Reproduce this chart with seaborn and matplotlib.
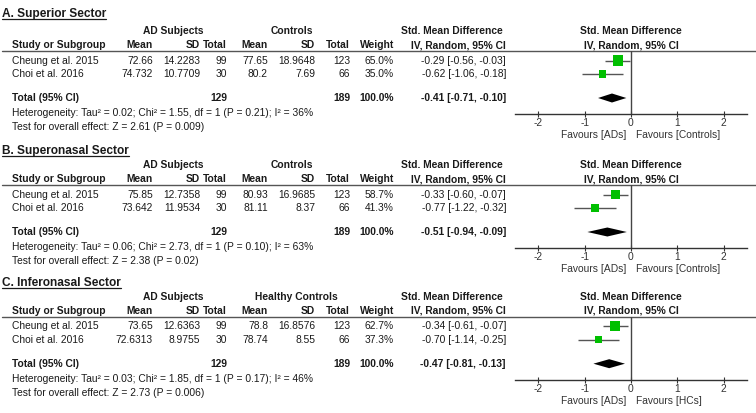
import matplotlib
matplotlib.use("Agg")
import matplotlib.pyplot as plt
import seaborn as sns
import pandas as pd

# data (RevMan style forest plots)
panel_titles = ["A. Superior Sector", "B. Superonasal Sector", "C. Inferonasal Sector"]
control_labels = ["Controls", "Controls", "Healthy Controls"]
favour_left = ["Favours [ADs]", "Favours [ADs]", "Favours [ADs]"]
favour_right = ["Favours [Controls]", "Favours [Controls]", "Favours [HCs]"]
studies = ["Cheung et al. 2015", "Choi et al. 2016"]

ad_mean = [[72.66, 74.732], [75.85, 73.642], [73.65, 72.6313]]
ad_sd = [[14.2283, 10.7709], [12.7358, 11.9534], [12.6363, 8.9755]]
ad_n = [99, 30]
ctrl_mean = [[77.65, 80.2], [80.93, 81.11], [78.8, 78.74]]
ctrl_sd = [[18.9648, 7.69], [16.9685, 8.37], [16.8576, 8.55]]
ctrl_n = [123, 66]
weight = [[65.0, 35.0], [58.7, 41.3], [62.7, 37.3]]
smd = [[-0.29, -0.62], [-0.33, -0.77], [-0.34, -0.70]]
smd_lo = [[-0.56, -1.06], [-0.60, -1.22], [-0.61, -1.14]]
smd_hi = [[-0.03, -0.18], [-0.07, -0.32], [-0.07, -0.25]]
total_smd = [-0.41, -0.51, -0.47]
total_lo = [-0.71, -0.94, -0.81]
total_hi = [-0.10, -0.09, -0.13]
tau2 = ["0.02", "0.06", "0.03"]
chi2 = ["1.55", "2.73", "1.85"]
het_p = ["0.21", "0.10", "0.17"]
i2 = [36, 63, 46]
z_val = ["2.61", "2.38", "2.73"]
z_p = ["0.009", "0.02", "0.006"]
xticks = [-2, -1, 0, 1, 2]

sns.set_style("white")
plt.rcParams["font.family"] = ["Liberation Sans", "DejaVu Sans"]
plt.rcParams["axes.unicode_minus"] = False

W, H = 756, 413
fig = plt.figure(figsize=(7.56, 4.13), dpi=100)
bg = fig.add_axes([0, 0, 1, 1])
bg.set_xlim(0, W)
bg.set_ylim(H, 0)
bg.axis("off")

# layout (pixels)
title_base = [17, 154, 286.5]
line_y = [51, 185, 316.7]
x_study = 12
x_ad_mean, x_ad_sd, x_ad_n = 153, 200, 227
x_c_mean, x_c_sd, x_c_n = 268, 315, 350
x_w, x_ci = 394, 506
plot_l, plot_r = 515, 747
row_off = [9.5, 23]
total_off = 47
axis_off = 63

fs = 7.4
ink = "#1a1a1a"
grey = "#333333"
green = "#00bf00"

titles = []
for p in range(3):
    ly = line_y[p]
    t = bg.text(2, title_base[p], panel_titles[p], fontsize=8.6, fontweight="bold",
                ha="left", va="baseline", color=ink)
    titles.append(t)

    # group headers
    gy = ly - 20
    bg.text(173, gy, "AD Subjects", fontsize=fs, fontweight="bold", ha="center", va="center", color=ink)
    bg.text(292 if p < 2 else 296, gy, control_labels[p], fontsize=fs, fontweight="bold",
            ha="center", va="center", color=ink)
    bg.text(452, gy, "Std. Mean Difference", fontsize=fs, fontweight="bold", ha="center", va="center", color=ink)
    bg.text(631, gy, "Std. Mean Difference", fontsize=fs, fontweight="bold", ha="center", va="center", color=ink)

    # column headers
    hy = ly - 6
    bg.text(x_study, hy, "Study or Subgroup", fontsize=fs, fontweight="bold", ha="left", va="center", color=ink)
    for x, lab in [(x_ad_mean, "Mean"), (x_ad_sd, "SD"), (x_ad_n, "Total"),
                   (x_c_mean, "Mean"), (x_c_sd, "SD"), (x_c_n, "Total"),
                   (x_w, "Weight"), (x_ci, "IV, Random, 95% CI")]:
        bg.text(x, hy, lab, fontsize=fs, fontweight="bold", ha="right", va="center", color=ink)
    bg.text(631, hy, "IV, Random, 95% CI", fontsize=fs, fontweight="bold", ha="center", va="center", color=ink)

    bg.plot([2, W], [ly, ly], color="#555555", lw=1)

    # study rows
    for i in range(2):
        ry = ly + row_off[i]
        cells = [
            (x_ad_mean, f"{ad_mean[p][i]:g}"), (x_ad_sd, f"{ad_sd[p][i]:g}"), (x_ad_n, f"{ad_n[i]}"),
            (x_c_mean, f"{ctrl_mean[p][i]:g}"), (x_c_sd, f"{ctrl_sd[p][i]:g}"), (x_c_n, f"{ctrl_n[i]}"),
            (x_w, f"{weight[p][i]:.1f}%"),
            (x_ci, f"{smd[p][i]:.2f} [{smd_lo[p][i]:.2f}, {smd_hi[p][i]:.2f}]"),
        ]
        bg.text(x_study, ry, studies[i], fontsize=fs, ha="left", va="center", color=ink)
        for x, s in cells:
            bg.text(x, ry, s, fontsize=fs, ha="right", va="center", color=ink)

    # total row
    ty = ly + total_off
    bg.text(x_study, ty, "Total (95% CI)", fontsize=fs, fontweight="bold", ha="left", va="center", color=ink)
    bg.text(x_ad_n, ty, f"{sum(ad_n)}", fontsize=fs, fontweight="bold", ha="right", va="center", color=ink)
    bg.text(x_c_n, ty, f"{sum(ctrl_n)}", fontsize=fs, fontweight="bold", ha="right", va="center", color=ink)
    bg.text(x_w, ty, f"{sum(weight[p]):.1f}%", fontsize=fs, fontweight="bold", ha="right", va="center", color=ink)
    bg.text(x_ci, ty, f"{total_smd[p]:.2f} [{total_lo[p]:.2f}, {total_hi[p]:.2f}]", fontsize=fs,
            fontweight="bold", ha="right", va="center", color=ink)

    het = (f"Heterogeneity: Tau\u00b2 = {tau2[p]}; Chi\u00b2 = {chi2[p]}, df = 1 (P = {het_p[p]}); "
           f"I\u00b2 = {i2[p]}%")
    bg.text(x_study, ly + 62, het, fontsize=fs, ha="left", va="center", color=ink)
    bg.text(x_study, ly + 76, f"Test for overall effect: Z = {z_val[p]} (P = {z_p[p]})",
            fontsize=fs, ha="left", va="center", color=ink)

    # forest plot
    ax = fig.add_axes([plot_l / W, 1 - (ly + axis_off) / H, (plot_r - plot_l) / W, axis_off / H])
    ax.set_facecolor("none")
    rows_y = [row_off[0], row_off[1]]
    ax.hlines(rows_y, smd_lo[p], smd_hi[p], color="#555555", lw=1, zorder=2)
    df = pd.DataFrame({"smd": smd[p], "row": rows_y, "w": weight[p]})
    sns.scatterplot(data=df, x="smd", y="row", size="w", sizes=(0, 80), size_norm=(0, 100),
                    marker="s", color=green, linewidth=0, legend=False, ax=ax, zorder=3)
    dh = 4.5
    ax.fill([total_lo[p], total_smd[p], total_hi[p], total_smd[p]],
            [total_off, total_off - dh, total_off, total_off + dh], color="black", lw=0, zorder=3)
    ax.axvline(0, color="#444444", lw=1, zorder=1)
    ax.set_xlim(-2.5, 2.5)
    ax.set_ylim(axis_off, 0)
    ax.set_xticks(xticks)
    ax.set_xticklabels([str(v) for v in xticks])
    ax.set_yticks([])
    ax.set_xlabel("")
    ax.set_ylabel("")
    for s in ["top", "left", "right"]:
        ax.spines[s].set_visible(False)
    ax.spines["bottom"].set_color(grey)
    ax.spines["bottom"].set_linewidth(1)
    ax.tick_params(axis="x", direction="inout", length=5, width=0.8, color=grey,
                   labelsize=fs, labelcolor=grey, pad=0.5, bottom=True)

    fy = ly + 84
    bg.text(626, fy, favour_left[p], fontsize=fs, ha="right", va="center", color=grey)
    bg.text(636, fy, favour_right[p], fontsize=fs, ha="left", va="center", color=grey)

# underline the panel titles
fig.canvas.draw()
for p, t in enumerate(titles):
    bb = t.get_window_extent()
    bg.plot([bb.x0, bb.x1], [title_base[p] + 1.5] * 2, color=ink, lw=0.9)

fig.savefig("out.png", dpi=100)
